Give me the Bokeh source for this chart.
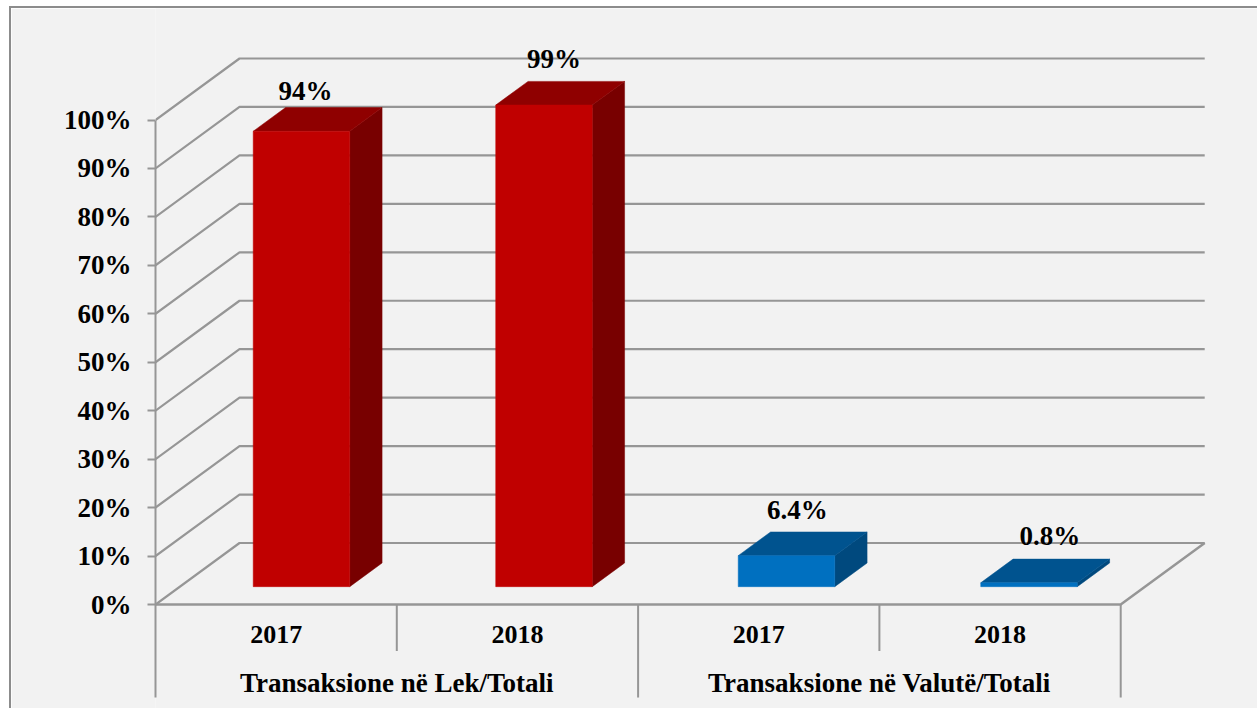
from bokeh.plotting import figure
from bokeh.embed import file_html
from bokeh.resources import INLINE
from bokeh.models import Range1d, FixedTicker, PrintfTickFormatter
from bokeh.core.properties import value

# ---- data ----
years = ["2017", "2018", "2017", "2018"]
groups = ["Transaksione në Lek/Totali", "Transaksione në Valutë/Totali"]
shares = [94.0, 99.4, 6.4, 0.8]
share_labels = ["94%", "99%", "6.4%", "0.8%"]
y_ticks = [0, 10, 20, 30, 40, 50, 60, 70, 80, 90, 100]

# ---- style ----
FRONT = ["#C00000", "#C00000", "#0070C0", "#0070C0"]
TOP = ["#8F0000", "#8F0000", "#00538F", "#00538F"]
SIDE = ["#780000", "#780000", "#00497E", "#00497E"]
LINE = "#969696"
BG = "#F2F2F2"
FONT = value("Liberation Serif")

# page geometry
CANVAS_X, CANVAS_Y = 11, 8
W, H = 1248, 702
AXIS_PX, ZERO_PX = 155, 604
CAT_PX, PCT_PX = 241.3, 4.845
DEPTH_X = 84 / CAT_PX      # floor depth in category units
DEPTH_Y = 61.5 / PCT_PX    # floor depth in percent units
BAR_START, BAR_PITCH = 0.504, 1.005
BAR_HALF = 0.2
BAR_D0, BAR_D1 = 0.29, 0.675
N = len(shares)

x_end = (CANVAS_X + W - AXIS_PX) / CAT_PX
y_start = (ZERO_PX - (CANVAS_Y + H)) / PCT_PX
y_end = (ZERO_PX - CANVAS_Y) / PCT_PX


def pt(x, y, d):
    return x + d * DEPTH_X, y + d * DEPTH_Y


p = figure(width=W, height=H, output_backend="svg", toolbar_location=None,
           x_range=Range1d(0, x_end), y_range=Range1d(y_start, y_end),
           x_axis_location=None, min_border_left=AXIS_PX - CANVAS_X,
           min_border_right=0, min_border_top=0, min_border_bottom=0,
           background_fill_color=BG, border_fill_color=BG, outline_line_color=None)
p.styles = {"margin-left": "9px", "margin-top": "6px",
            "border-left": "2px solid #8C8C8C", "border-top": "2px solid #8C8C8C"}
p.grid.visible = False

ax = p.yaxis[0]
ax.ticker = FixedTicker(ticks=y_ticks)
ax.formatter = PrintfTickFormatter(format="%d%%")
ax.bounds = (-19.2, 100)
ax.axis_line_color = LINE
ax.axis_line_width = 2
ax.major_tick_line_color = LINE
ax.major_tick_line_width = 2
ax.major_tick_in = 0
ax.major_tick_out = 8
ax.minor_tick_line_color = None
ax.major_label_standoff = 16
ax.major_label_text_font = "Liberation Serif"
ax.major_label_text_font_style = "bold"
ax.major_label_text_font_size = "27px"
ax.major_label_text_color = "black"

# back wall and left wall grid lines
for t in y_ticks:
    bx, by = pt(0, t, 1)
    ex, _ = pt(N, t, 1)
    p.line([0, bx, ex], [t, by, by], line_color=LINE, line_width=2.2)

# floor
x1, y1 = pt(N, 0, 1)
p.line([0, N, x1], [0, 0, y1], line_color=LINE, line_width=2.5)

# category dividers
p.segment(x0=[1, 3], y0=[0, 0], x1=[1, 3], y1=[-9.6, -9.6], line_color=LINE, line_width=2)
p.segment(x0=[2, 4], y0=[0, 0], x1=[2, 4], y1=[-19.2, -19.2], line_color=LINE, line_width=2)

# 3D bars
centers = [BAR_START + i * BAR_PITCH for i in range(N)]
for i, v in enumerate(shares):
    xl, xr = centers[i] - BAR_HALF, centers[i] + BAR_HALF
    A = pt(xl, 0, BAR_D0); B = pt(xr, 0, BAR_D0)
    C = pt(xr, v, BAR_D0); D = pt(xl, v, BAR_D0)
    E = pt(xr, 0, BAR_D1); F = pt(xr, v, BAR_D1); G = pt(xl, v, BAR_D1)
    for face, col in (([B, E, F, C], SIDE[i]), ([D, C, F, G], TOP[i]), ([A, B, C, D], FRONT[i])):
        p.patch([q[0] for q in face], [q[1] for q in face], fill_color=col, line_color=col, line_width=0.5)

# value labels (above the bar top)
label_dx = [4, 10, 11, 21]
label_dy = [40, 46, 46, 47]
fx = [pt(c, 0, BAR_D0)[0] for c in centers]
fy = [pt(0, v, BAR_D0)[1] for v in shares]
p.text(x=fx, y=fy, text=share_labels, x_offset=label_dx, y_offset=[-d for d in label_dy],
       text_font=FONT, text_font_style="bold", text_font_size="27px",
       text_align="center", text_baseline="middle", text_color="black")

# category labels
p.text(x=[i + 0.5 for i in range(N)], y=[-6.2] * N, text=years, text_font=FONT,
       text_font_style="bold", text_font_size="26px", text_align="center",
       text_baseline="middle", text_color="black")
p.text(x=[1, 3], y=[-16.1, -16.1], text=groups, text_font=FONT, text_font_style="bold",
       text_font_size="27px", text_align="center", text_baseline="middle", text_color="black")

open("out.html", "w").write(file_html(p, INLINE))
